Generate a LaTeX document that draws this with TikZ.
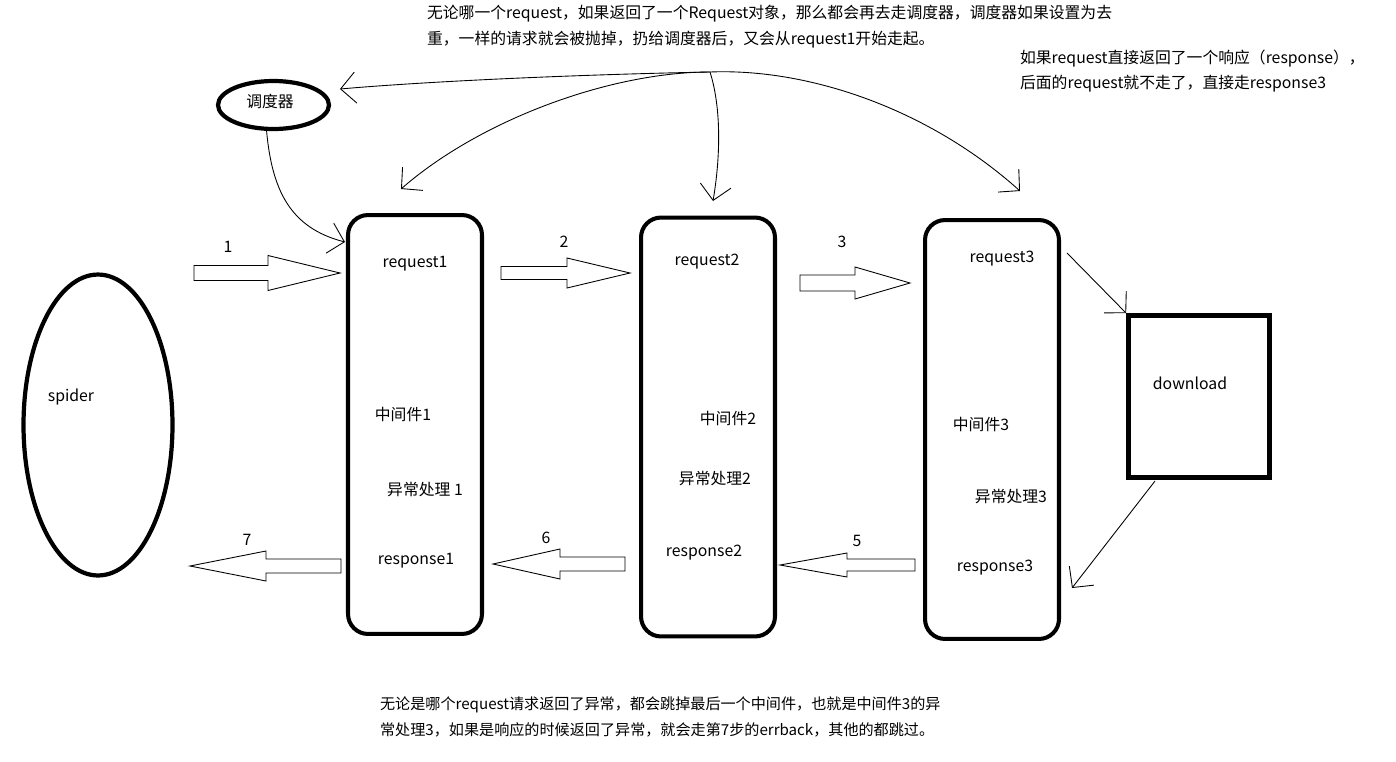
\documentclass[tikz,border=0pt]{standalone}
\usepackage{fontspec}
\setmainfont{Noto Sans CJK SC}
\usepackage{tikz}
\usetikzlibrary{arrows.meta,positioning,calc,shapes.geometric}

\begin{document}
\begin{tikzpicture}[x=0.02cm,y=-0.02cm,>={Straight Barb[length=0.3cm,width=0.62cm]},
  every node/.style={font=\fontsize{9}{14.7}\selectfont,align=left,inner sep=1pt},
  mwbox/.style={draw,line width=2.3pt,rounded corners=0.4cm,minimum width=2.68cm,minimum height=8.38cm},
  blob/.style={draw,ellipse,line width=2.4pt,inner sep=0pt},
  dlbox/.style={draw,line width=2.7pt,minimum width=2.82cm,minimum height=3.24cm},
  wire/.style={->,line width=0.5pt},
  fat/.style={draw,line width=0.5pt}]
  \useasboundingbox (0,0) rectangle (1396,761);
  % notes
  \node[anchor=west] (topnote) at (425,27) {无论哪一个request，如果返回了一个Request对象，那么都会再去走调度器，调度器如果设置为去\\重，一样的请求就会被抛掉，扔给调度器后，又会从request1开始走起。};
  \node[anchor=west] (rightnote) at (1018,71) {如果request直接返回了一个响应（response），\\后面的request就不走了，直接走response3};
  \node[anchor=west,font=\fontsize{8.6}{14.7}\selectfont] (botnote) at (378,717) {无论是哪个request请求返回了异常，都会跳掉最后一个中间件，也就是中间件3的异\\常处理3，如果是响应的时候返回了异常，就会走第7步的errback，其他的都跳过。};
  % shapes
  \node[blob,minimum width=2.22cm,minimum height=0.96cm] (sched) at (273.5,105) {};
  \node (schedtxt) at (270,101) {调度器};
  \node[blob,minimum width=2.98cm,minimum height=6.02cm] (spider) at (98,425) {};
  \node (spidertxt) at (71,397) {spider};
  \node[mwbox] (box1) at (415,424.5) {};
  \node[mwbox] (box2) at (708,427) {};
  \node[mwbox] (box3) at (992,429.5) {};
  \node[dlbox] (dl) at (1199,396.5) {};
  \node (dltxt) at (1190,383) {download};
  % box texts
  \node (req1) at (415,264) {request1};
  \node (mw1) at (403,414) {中间件1};
  \node (ex1) at (425,489) {异常处理 1};
  \node (resp1) at (416,561) {response1};
  \node (req2) at (707,262) {request2};
  \node (mw2) at (728,418) {中间件2};
  \node (ex2) at (715,478) {异常处理2};
  \node (resp2) at (704,553) {response2};
  \node (req3) at (1002,259) {request3};
  \node (mw3) at (981,424) {中间件3};
  \node (ex3) at (1011,496) {异常处理3};
  \node (resp3) at (995,568) {response3};
  % block arrows
  \draw[fat] (194,265.5) -- (268,265.5) -- (268,255.5) -- (340,273) -- (268,290.5) -- (268,280.5) -- (194,280.5) -- cycle;
  \draw[fat] (501,266.5) -- (567,266.5) -- (567,258) -- (630,273) -- (567,288) -- (567,279.5) -- (501,279.5) -- cycle;
  \draw[fat] (800,275) -- (855,275) -- (855,267) -- (910,283) -- (855,299) -- (855,291) -- (800,291) -- cycle;
  \draw[fat] (915,559) -- (847,559) -- (847,553) -- (780,565) -- (847,577) -- (847,571) -- (915,571) -- cycle;
  \draw[fat] (625,557) -- (560,557) -- (560,549) -- (493,564) -- (560,579) -- (560,571) -- (625,571) -- cycle;
  \draw[fat] (341,559) -- (266,559) -- (266,551) -- (190,566) -- (266,581) -- (266,573) -- (341,573) -- cycle;
  \node (n1) at (228,247) {1};
  \node (n2) at (564,242) {2};
  \node (n3) at (842,242) {3};
  \node (n5) at (857,541) {5};
  \node (n6) at (546,538) {6};
  \node (n7) at (247,540) {7};
  % hand drawn connectors
  \coordinate (hub) at (710,72);
  \coordinate (tipS) at (340,89);
  \coordinate (tipL) at (401,189);
  \coordinate (tipM) at (713,201);
  \coordinate (tipR) at (1020,191);
  \coordinate (in1) at (345,242);
  \coordinate (out3) at (1067,253);
  \coordinate (dlout) at (1155,481);
  \coordinate (in3) at (1072,588);
  \draw[wire] (hub) .. controls (560,75) and (420,82) .. (tipS);
  \draw[wire] (hub) .. controls (610,72) and (480,120) .. (tipL);
  \draw[wire] (hub) .. controls (722,110) and (720,160) .. (tipM);
  \draw[wire] (hub) .. controls (810,68) and (930,110) .. (tipR);
  \draw[wire] (sched.255) .. controls (272,190) and (290,228) .. (in1);
  \draw[wire] (out3) -- (dl.north west);
  \draw[wire] (dlout) -- (in3);
\end{tikzpicture}
\end{document}
